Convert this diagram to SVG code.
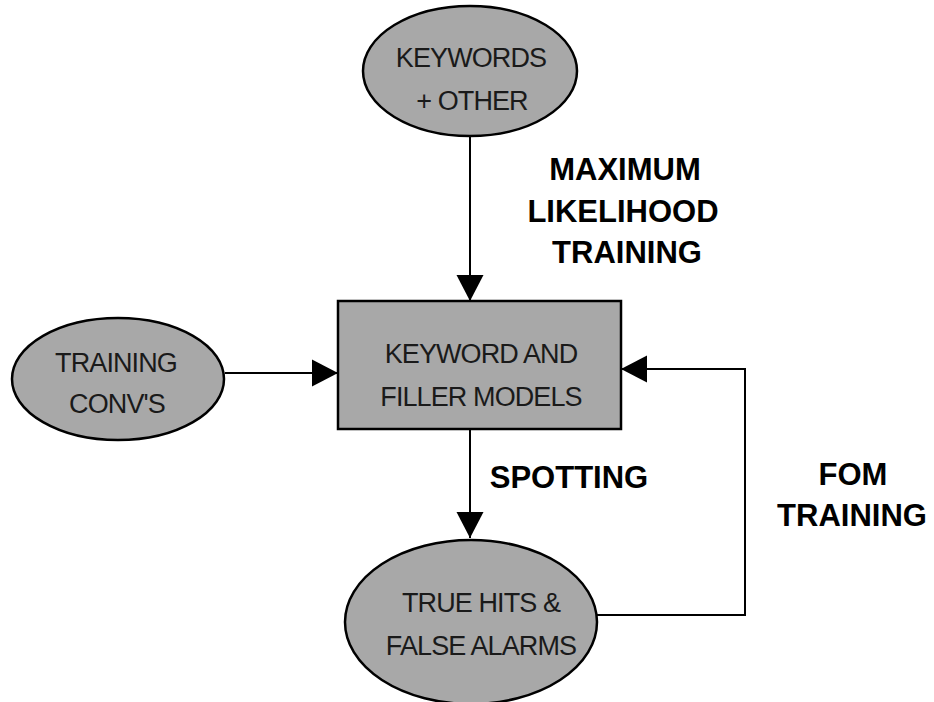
<svg xmlns="http://www.w3.org/2000/svg" width="934" height="702" viewBox="0 0 934 702">
<defs>
<marker id="ah" markerWidth="26" markerHeight="28" viewBox="0 0 26 28" refX="26" refY="14" orient="auto" markerUnits="userSpaceOnUse">
<path d="M0,0.5 L26,14 L0,27.5 Z" fill="#000"/>
</marker>
</defs>
<style>
.node{fill:#a8a8a8;stroke:#000;stroke-width:2.5}
.nt{font-family:"Liberation Sans",Arial,sans-serif;font-size:27px;letter-spacing:-0.9px;fill:#1a1a1a;text-anchor:middle}
.lbl{font-family:"Liberation Sans",Arial,sans-serif;font-size:31px;font-weight:bold;fill:#000;text-anchor:middle}
.edge{fill:none;stroke:#000;stroke-width:2}
</style>
<rect width="934" height="702" fill="#fff"/>
<g id="connectors">
<line class="edge" x1="470" y1="136" x2="470" y2="301" marker-end="url(#ah)"/>
<line class="edge" x1="225" y1="373" x2="338" y2="373" marker-end="url(#ah)"/>
<line class="edge" x1="470" y1="429" x2="470" y2="538" marker-end="url(#ah)"/>
<polyline class="edge" points="597,615 745,615 745,369 621,369" marker-end="url(#ah)"/>
</g>
<g id="keywords_other">
<ellipse class="node" cx="470" cy="71" rx="107" ry="65"/>
<text class="nt" x="471" y="67">KEYWORDS</text>
<text class="nt" x="472" y="110">+ OTHER</text>
</g>
<g id="keyword_filler_models">
<rect class="node" x="338" y="301" width="283" height="128"/>
<text class="nt" x="481" y="363">KEYWORD AND</text>
<text class="nt" x="481" y="406">FILLER MODELS</text>
</g>
<g id="training_convs">
<ellipse class="node" cx="118" cy="379" rx="106" ry="61"/>
<text class="nt" x="116" y="372">TRAINING</text>
<text class="nt" x="117" y="413">CONV'S</text>
</g>
<g id="true_hits">
<ellipse class="node" cx="471" cy="622" rx="126" ry="82"/>
<text class="nt" x="481" y="612">TRUE HITS &amp;</text>
<text class="nt" x="481" y="655">FALSE ALARMS</text>
</g>
<g id="labels">
<text class="lbl" x="625" y="180">MAXIMUM</text>
<text class="lbl" x="623" y="222">LIKELIHOOD</text>
<text class="lbl" x="627" y="263">TRAINING</text>
<text class="lbl" x="569" y="488">SPOTTING</text>
<text class="lbl" x="853" y="485">FOM</text>
<text class="lbl" x="852" y="526">TRAINING</text>
</g>
</svg>
